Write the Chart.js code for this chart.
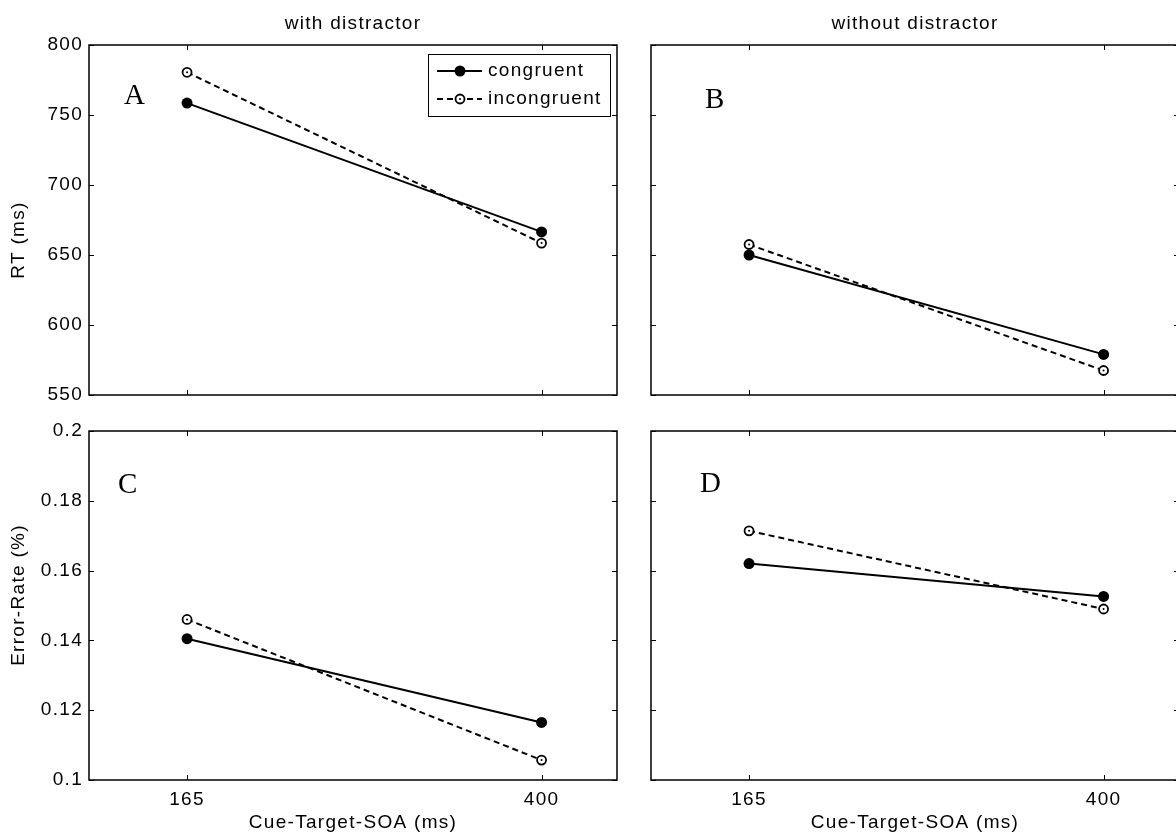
<!DOCTYPE html>
<html>
<head>
<meta charset="utf-8">
<title>RT and error rate by cue-target SOA</title>
<script src="https://cdn.jsdelivr.net/npm/chart.js@4.4.0/dist/chart.umd.min.js"></script>
<style>
  html, body { margin: 0; padding: 0; background: #fff; overflow: hidden; }
  #fig { position: relative; width: 1176px; height: 834px; overflow: hidden; background: #fff; }
  .panel { position: absolute; }
</style>
</head>
<body>
<div id="fig">
  <div class="panel" style="left:0px;top:0px;width:634px;height:430px"><canvas id="chart-a"></canvas></div>
  <div class="panel" style="left:634px;top:0px;width:560px;height:430px"><canvas id="chart-b"></canvas></div>
  <div class="panel" style="left:0px;top:405px;width:634px;height:429px"><canvas id="chart-c"></canvas></div>
  <div class="panel" style="left:634px;top:405px;width:560px;height:429px"><canvas id="chart-d"></canvas></div>
</div>
<script>
// cue-target SOA conditions (ms)
const soa = [165, 400];
const soaTicks = [165, 400];
const rtTicks = [550, 600, 650, 700, 750, 800];
const errTicks = [0.1, 0.12, 0.14, 0.16, 0.18, 0.2];

// mean RT (ms)
const rtWithCongruent = [758.5, 666.5];
const rtWithIncongruent = [780.5, 658.5];
const rtWithoutCongruent = [650, 579];
const rtWithoutIncongruent = [657.5, 567.5];

// error rates
const errWithCongruent = [0.1405, 0.1165];
const errWithIncongruent = [0.146, 0.1057];
const errWithoutCongruent = [0.162, 0.1526];
const errWithoutIncongruent = [0.1714, 0.149];

const SANS = "'Liberation Sans', Arial, sans-serif";
const SERIF = "'Liberation Serif', 'Times New Roman', serif";
const SPACING = '1.3px';

Chart.defaults.animation = false;
Chart.defaults.color = '#000';

function points(vals) {
  return soa.map((x, i) => ({ x: x, y: vals[i] }));
}

function congruentSet(vals) {
  return {
    label: 'congruent',
    data: points(vals),
    borderColor: '#000',
    borderWidth: 2,
    pointStyle: 'circle',
    pointRadius: 5.5,
    pointBackgroundColor: '#000',
    pointBorderColor: '#000',
    pointBorderWidth: 0
  };
}

function incongruentSet(vals) {
  return {
    label: 'incongruent',
    data: points(vals),
    borderColor: '#000',
    borderWidth: 2,
    borderDash: [6, 4],
    pointStyle: 'circle',
    pointRadius: 4.5,
    pointBackgroundColor: '#fff',
    pointBorderColor: '#000',
    pointBorderWidth: 1.8,
    centerDot: true
  };
}

// box round the axes, inward tick marks, text and legend
const panelDecor = {
  id: 'panelDecor',
  beforeDraw(chart) {
    chart.ctx.letterSpacing = SPACING;
  },
  afterDatasetsDraw(chart, args, o) {
    const ctx = chart.ctx;
    const a = chart.chartArea;
    const xs = chart.scales.x;
    const ys = chart.scales.y;

    // dots inside the open markers
    chart.data.datasets.forEach((ds, i) => {
      if (!ds.centerDot) return;
      chart.getDatasetMeta(i).data.forEach(p => {
        ctx.beginPath();
        ctx.fillStyle = '#000';
        ctx.arc(p.x, p.y, 1, 0, Math.PI * 2);
        ctx.fill();
      });
    });

    ctx.save();
    ctx.strokeStyle = '#000';
    ctx.lineWidth = 1;
    ys.ticks.forEach(t => {
      const y = Math.round(ys.getPixelForValue(t.value)) + 0.5;
      ctx.beginPath();
      ctx.moveTo(a.left, y); ctx.lineTo(a.left + 5, y);
      ctx.moveTo(a.right, y); ctx.lineTo(a.right - 5, y);
      ctx.stroke();
    });
    xs.ticks.forEach(t => {
      const x = Math.round(xs.getPixelForValue(t.value)) + 0.5;
      ctx.beginPath();
      ctx.moveTo(x, a.bottom); ctx.lineTo(x, a.bottom - 5);
      ctx.moveTo(x, a.top); ctx.lineTo(x, a.top + 5);
      ctx.stroke();
    });
    ctx.lineWidth = 1.5;
    ctx.strokeRect(a.left, a.top, a.right - a.left, a.bottom - a.top);

    ctx.fillStyle = '#000';
    ctx.font = '19px ' + SANS;
    ctx.textBaseline = 'alphabetic';
    const cx = (a.left + a.right) / 2;
    if (o.heading) {
      ctx.textAlign = 'center';
      ctx.fillText(o.heading, cx, a.top - 16);
    }
    if (o.xTitle) {
      ctx.textAlign = 'center';
      ctx.fillText(o.xTitle, cx, a.bottom + 48);
    }
    if (o.yTitle) {
      ctx.save();
      ctx.translate(24, o.yTitleAt);
      ctx.rotate(-Math.PI / 2);
      ctx.textAlign = 'center';
      ctx.fillText(o.yTitle, 0, 0);
      ctx.restore();
    }
    if (o.letter) {
      ctx.save();
      ctx.letterSpacing = '0px';
      ctx.font = '29px ' + SERIF;
      ctx.textAlign = 'left';
      ctx.fillText(o.letter, a.left + o.letterAt[0], a.top + o.letterAt[1]);
      ctx.restore();
    }
    if (o.legend) {
      const bx = a.right - 189, by = a.top + 9, bw = 182, bh = 62;
      ctx.lineWidth = 1;
      ctx.strokeRect(bx + 0.5, by + 0.5, bw, bh);
      chart.data.datasets.forEach((ds, i) => {
        const y = by + 17 + i * 28;
        ctx.save();
        ctx.lineWidth = ds.borderWidth;
        ctx.setLineDash(ds.borderDash || []);
        ctx.beginPath();
        ctx.moveTo(bx + 9, y); ctx.lineTo(bx + 54, y);
        ctx.stroke();
        ctx.setLineDash([]);
        ctx.beginPath();
        ctx.arc(bx + 32, y, ds.pointRadius, 0, Math.PI * 2);
        ctx.fillStyle = ds.pointBackgroundColor;
        ctx.fill();
        if (ds.pointBorderWidth) {
          ctx.lineWidth = ds.pointBorderWidth;
          ctx.stroke();
        }
        if (ds.centerDot) {
          ctx.beginPath();
          ctx.fillStyle = '#000';
          ctx.arc(bx + 32, y, 1, 0, Math.PI * 2);
          ctx.fill();
        }
        ctx.restore();
        ctx.textAlign = 'left';
        ctx.textBaseline = 'middle';
        ctx.fillText(ds.label, bx + 60, y);
      });
    }
    ctx.restore();
  }
};

function fmt(v) {
  return String(+Number(v).toFixed(2));
}

function makePanel(id, cfg) {
  const el = document.getElementById(id);
  const box = el.parentNode;
  const W = box.clientWidth, H = box.clientHeight;
  const ar = cfg.area;
  return new Chart(el, {
    type: 'line',
    data: {
      datasets: [congruentSet(cfg.congruent), incongruentSet(cfg.incongruent)]
    },
    plugins: [panelDecor],
    options: {
      responsive: true,
      maintainAspectRatio: false,
      layout: { padding: { top: ar.t, left: 0, right: W - ar.r, bottom: 0 } },
      plugins: {
        legend: { display: false },
        tooltip: { enabled: false },
        panelDecor: {
          heading: cfg.heading,
          xTitle: cfg.xTitle,
          yTitle: cfg.yTitle,
          yTitleAt: cfg.yTitleAt,
          letter: cfg.letter,
          letterAt: cfg.letterAt,
          legend: cfg.legend
        }
      },
      scales: {
        x: {
          type: 'linear',
          min: 100,
          max: 450,
          grid: { display: false, drawTicks: false },
          border: { display: false },
          afterBuildTicks: s => { s.ticks = soaTicks.map(v => ({ value: v })); },
          afterFit: s => { s.height = H - ar.b; },
          ticks: {
            display: cfg.xLabels,
            padding: 8,
            font: { family: SANS, size: 19 },
            callback: v => fmt(v)
          }
        },
        y: {
          min: cfg.yTicks[0],
          max: cfg.yTicks[cfg.yTicks.length - 1],
          grid: { display: false, drawTicks: false },
          border: { display: false },
          afterBuildTicks: s => { s.ticks = cfg.yTicks.map(v => ({ value: v })); },
          afterFit: s => { s.width = ar.l; },
          ticks: {
            display: cfg.yLabels,
            padding: 6,
            font: { family: SANS, size: 19 },
            callback: v => fmt(v)
          }
        }
      }
    }
  });
}

makePanel('chart-a', {
  congruent: rtWithCongruent, incongruent: rtWithIncongruent,
  area: { l: 89, t: 45, r: 617, b: 395 },
  yTicks: rtTicks, xLabels: false, yLabels: true,
  heading: 'with distractor', yTitle: 'RT (ms)', yTitleAt: 240,
  letter: 'A', letterAt: [35, 59], legend: true
});

makePanel('chart-b', {
  congruent: rtWithoutCongruent, incongruent: rtWithoutIncongruent,
  area: { l: 17, t: 45, r: 545, b: 395 },
  yTicks: rtTicks, xLabels: false, yLabels: false,
  heading: 'without distractor',
  letter: 'B', letterAt: [54, 63]
});

makePanel('chart-c', {
  congruent: errWithCongruent, incongruent: errWithIncongruent,
  area: { l: 89, t: 26, r: 617, b: 375 },
  yTicks: errTicks, xLabels: true, yLabels: true,
  xTitle: 'Cue-Target-SOA (ms)', yTitle: 'Error-Rate (%)', yTitleAt: 190,
  letter: 'C', letterAt: [29, 62]
});

makePanel('chart-d', {
  congruent: errWithoutCongruent, incongruent: errWithoutIncongruent,
  area: { l: 17, t: 26, r: 545, b: 375 },
  yTicks: errTicks, xLabels: true, yLabels: false,
  xTitle: 'Cue-Target-SOA (ms)',
  letter: 'D', letterAt: [49, 61]
});
</script>
</body>
</html>
